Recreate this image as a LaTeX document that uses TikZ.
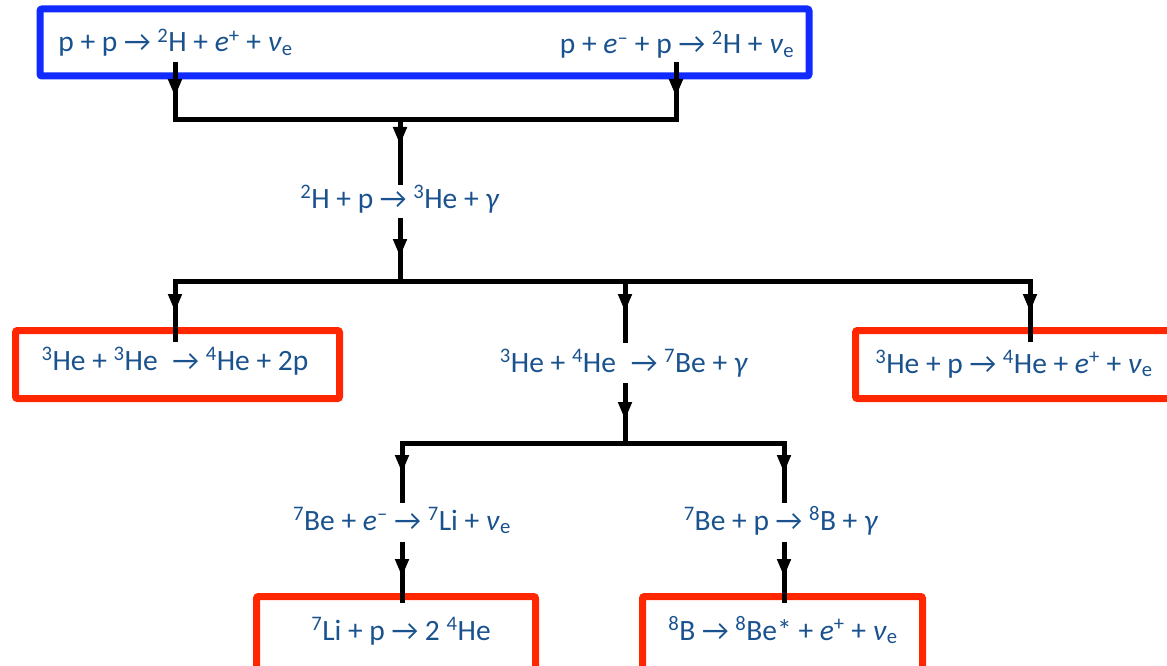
\documentclass[tikz,border=0pt]{standalone}
\usepackage{fontspec}
\setmainfont{Carlito}
\usetikzlibrary{arrows.meta,decorations.markings}

\definecolor{rxn}{RGB}{26,82,142}
\definecolor{ppblue}{RGB}{16,42,255}
\definecolor{termred}{RGB}{255,38,0}

% isotope, positron, electron, neutrino, gamma
\newcommand\iso[2]{\textsuperscript{#1}#2}
\newcommand\posi{\textit{e}\textsuperscript{+}}
\newcommand\elec{\textit{e}\textsuperscript{–}}
\newcommand\nue{\textit{ν}\textsubscript{e}}
\newcommand\gam{\textit{γ}}

\tikzset{
  rxn/.style={text=rxn, font=\fontsize{29.5}{34}\selectfont, inner sep=0pt, anchor=base},
  wire/.style={line width=5pt, draw=black},
  bar/.style={wire, line cap=rect},
  tipat/.style={postaction={decorate}, decoration={markings,
      mark=at position #1 with {\arrow{Triangle[length=18pt,width=13pt]}}}},
  frame/.style={line width=7pt, rounded corners=2pt},
}

\begin{document}
\begin{tikzpicture}[x=1pt,y=-1pt]
\useasboundingbox (0,0) rectangle (1167,666);
\clip (0,0) rectangle (1167,666);

% reaction labels
\node[rxn] (pp)   at (175.5,52) {p + p → \iso{2}{H} + \posi{} + \nue};
\node[rxn] (pep)  at (677,54)   {p + \elec{} + p → \iso{2}{H} + \nue};
\node[rxn] (dp)   at (400,208)  {\iso{2}{H} + p → \iso{3}{He} + \gam};
\node[rxn] (hehe) at (175,370)  {\iso{3}{He} + \iso{3}{He}\enspace → \iso{4}{He} + 2p};
\node[rxn] (hebe) at (624,372)  {\iso{3}{He} + \iso{4}{He}\enspace → \iso{7}{Be} + \gam};
\node[rxn] (hep)  at (1014,373) {\iso{3}{He} + p → \iso{4}{He} + \posi{} + \nue};
\node[rxn] (bee)  at (402,530)  {\iso{7}{Be} + \elec{} → \iso{7}{Li} + \nue};
\node[rxn] (lip)  at (401,640)  {\iso{7}{Li} + p → 2 \iso{4}{He}};
\node[rxn] (bep)  at (781,530)  {\iso{7}{Be} + p → \iso{8}{B} + \gam};
\node[rxn] (bdec) at (783,640)  {\iso{8}{B} → \iso{8}{Be*} + \posi{} + \nue};

% frames: initial reactions (blue) and terminating reactions (red)
\draw[frame, draw=ppblue]  (40,9) rectangle (809,76);
\draw[frame, draw=termred] (15.5,330.5) rectangle (339.5,398.5);
\draw[frame, draw=termred] (855.5,330.5) rectangle (1185,398.5);
\draw[frame, draw=termred] (256.5,596.5) rectangle (535.5,690);
\draw[frame, draw=termred] (642.5,596.5) rectangle (922.5,690);

% junction points and wire ends
\coordinate (ppout)  at (175,62);
\coordinate (pepout) at (676,62);
\coordinate (jA)  at (175,120);
\coordinate (jB)  at (676,120);
\coordinate (jC)  at (400,120);
\coordinate (dpin)  at (400,185);
\coordinate (dpout) at (400,218);
\coordinate (jD)  at (400,281);
\coordinate (jE)  at (175,281);
\coordinate (jF)  at (625,281);
\coordinate (jG)  at (1030,281);
\coordinate (hehein) at (175,342);
\coordinate (hebein) at (625,343);
\coordinate (hepin)  at (1030,342);
\coordinate (hebeout) at (625,383);
\coordinate (jH)  at (625,443);
\coordinate (jI)  at (402,443);
\coordinate (jJ)  at (784,443);
\coordinate (beein)  at (402,503);
\coordinate (bepin)  at (784,503);
\coordinate (beeout) at (402,542);
\coordinate (bepout) at (784,542);
\coordinate (lipin)  at (402,603);
\coordinate (bdecin) at (784,603);

% branch bars
\draw[bar] (jA) -- (jB);
\draw[bar] (jE) -- (jG);
\draw[bar] (jI) -- (jJ);

% arrows down the chain
\draw[wire, tipat=35pt] (ppout) -- (jA);
\draw[wire, tipat=35pt] (pepout) -- (jB);
\draw[wire, tipat=25pt] (jC) -- (dpin);
\draw[wire, tipat=39pt] (dpout) -- (jD);
\draw[wire, tipat=31pt] (jE) -- (hehein);
\draw[wire, tipat=31pt] (jF) -- (hebein);
\draw[wire, tipat=31pt] (jG) -- (hepin);
\draw[wire, tipat=37pt] (hebeout) -- (jH);
\draw[wire, tipat=30pt] (jI) -- (beein);
\draw[wire, tipat=30pt] (jJ) -- (bepin);
\draw[wire, tipat=35pt] (beeout) -- (lipin);
\draw[wire, tipat=35pt] (bepout) -- (bdecin);
\end{tikzpicture}
\end{document}
